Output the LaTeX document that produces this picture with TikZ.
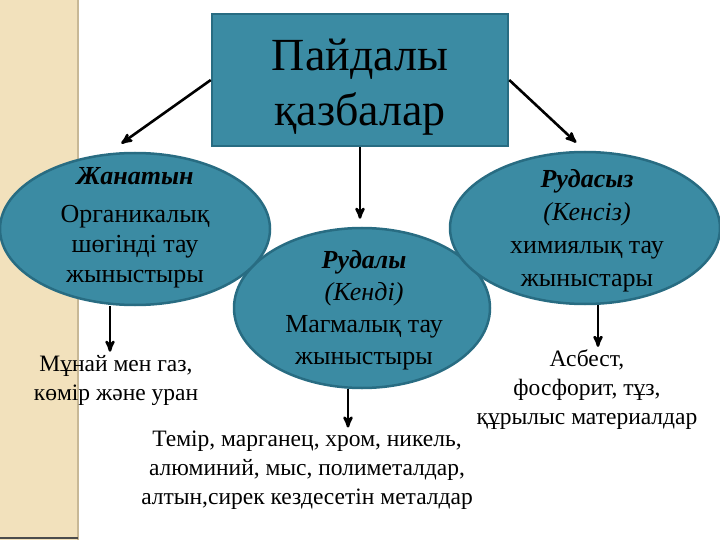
\documentclass[tikz,border=0pt]{standalone}
\usepackage{fontspec}
\setmainfont{Liberation Serif}
\usetikzlibrary{arrows,shapes.geometric}
\definecolor{tealfill}{RGB}{59,139,163}
\definecolor{tealedge}{RGB}{40,108,130}
\definecolor{sabbia}{RGB}{242,225,188}
\definecolor{sabbiaedge}{RGB}{200,184,150}

\begin{document}
\begin{tikzpicture}[x=1pt,y=-1pt,
    conn/.style={->,>=stealth',line width=2.6pt},
    blob/.style={ellipse,draw=tealedge,fill=tealfill,line width=2.5pt,minimum width=270pt,minimum height=152pt,inner sep=0pt},
    inblob/.style={align=center,font=\fontsize{26}{32}\selectfont},
    minerali/.style={align=center,inner sep=3pt,font=\fontsize{23.5}{29}\selectfont}]
            %sfondo
            \useasboundingbox (0,0) rectangle (720,540);
            \fill[sabbia] (0,0) rectangle (78,540);
            \draw[sabbiaedge,line width=1.5pt] (78,0) -- (78,540);
            \draw[black!70,line width=1.5pt] (0,538) -- (78,538);
            %titolo
            \node[draw=tealedge,fill=tealfill,line width=2.5pt,minimum width=296pt,minimum height=132pt,align=center,font=\fontsize{46}{55}\selectfont] (title) at (360,80) {\rule{0pt}{45pt}Пайдалы\\қазбалар};
            %ellissi
            \node[blob,minimum width=256pt,minimum height=160pt] (ore) at (362,308) {};
            \node[blob] (organic) at (135,229) {};
            \node[blob] (nonore) at (585,228) {};
            \node[inblob,font=\fontsize{26}{30}\selectfont] (organictext) at (135,228) {\textbf{\textit{Жанатын}}\\[8pt]Органикалық\\шөгінді тау\\жыныстыры};
            \node[inblob] (oretext) at (364,310) {\textbf{\textit{Рудалы}}\\\textit{(Кенді)}\\Магмалық тау\\жыныстыры};
            \node[inblob,font=\fontsize{26}{33}\selectfont] (nonoretext) at (587,231) {\textbf{\textit{Рудасыз}}\\\textit{(Кенсіз)}\\химиялық тау\\жыныстары};
            %minerali
            \node[minerali] (oil) at (116,380) {Мұнай мен газ,\\көмір және уран};
            \node[minerali] (metals) at (307,470) {Темір, марганец, хром, никель,\\алюминий, мыс, полиметалдар,\\алтын,сирек кездесетін металдар};
            \node[minerali] (salts) at (587,390) {Асбест,\\фосфорит, тұз,\\құрылыс материалдар};
            %frecce
            \draw[conn,shorten >=17pt] (title.west) -- (organic.110);
            \draw[conn,shorten >=12pt] (title.east) -- (nonore.north);
            \draw[conn,shorten >=8pt] (title.south) -- (title.south |- ore.north);
            \draw[conn] ([xshift=-25pt]organic.south) -- ([xshift=-25pt]organic.south |- oil.north);
            \draw[conn] ([xshift=-14pt]ore.south) -- ([xshift=-14pt]ore.south |- metals.north);
            \draw[conn] ([xshift=13pt]nonore.south) -- ([xshift=13pt]nonore.south |- salts.north);
        \end{tikzpicture}
\end{document}
